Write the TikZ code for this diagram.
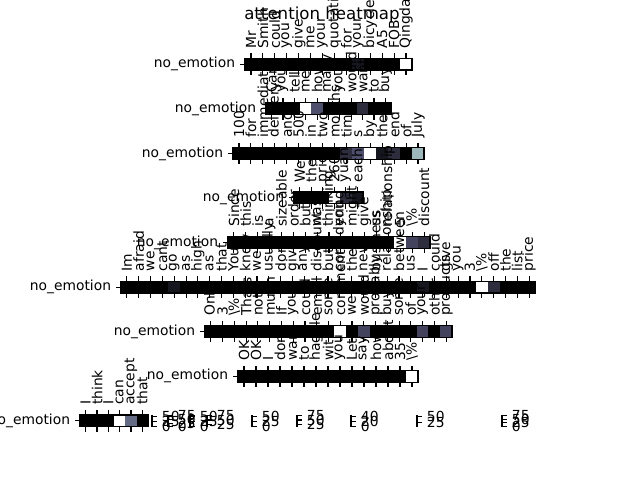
\documentclass[tikz,border=0pt]{standalone}
\usepackage{fontspec}
\setmainfont{DejaVu Sans}
\usepackage{tikz}
\definecolor{bk}{HTML}{000000}
\definecolor{d1}{HTML}{16161F}
\definecolor{d2}{HTML}{2D2D3E}
\definecolor{d3}{HTML}{43435D}
\definecolor{d4}{HTML}{4E4E6D}
\definecolor{s5}{HTML}{646B84}
\definecolor{l7}{HTML}{9CB8BC}
\definecolor{wh}{HTML}{FFFFFF}
\newcommand{\lblfont}{\fontsize{10}{12}\selectfont}
% one heatmap row: name, left, right, centre y, cells, word/colour list
\newcommand{\heatrow}[6]{%
  \pgfmathsetmacro\cw{(#3-#2)/#5}
  \foreach \w/\col [count=\i] in {#6} {
    \fill[\col] ({#2+(\i-1)*\cw}, #4-5.85) rectangle ({#2+\i*\cw}, #4+5.85);
    \draw[tickmark] ({#2+(\i-0.5)*\cw}, #4-5.85) -- ++(0,-4.86);
    \draw[tickmark] ({#2+(\i-0.5)*\cw}, #4+5.85) -- ++(0,4.86);
    \node[word] (#1-\i) at ({#2+(\i-0.5)*\cw}, #4-15.6) {\w};
  }
  \draw[tickmark] (#2,#4) -- ++(-4.86,0);
  \node[rowlab] (#1-lab) at ({#2-9.7}, #4) {no\_emotion};
  \draw[spine] (#2, #4-5.85) rectangle (#3, #4+5.85);
}
% one colour bar: name, x, min, max, ticks
\newcommand{\cbar}[5]{%
  \draw[spine] (#2, 414.95) -- (#2, 426.65);
  \foreach \v in {#5} {
    \pgfmathsetmacro\ty{426.65-(\v-#3)/(#4-#3)*11.7}
    \draw[tickmark] (#2, \ty) -- ++(4.86, 0);
    \node[cblab] (#1-\v) at ({#2+9.7}, \ty) {\v};
  }
}

\begin{document}
\begin{tikzpicture}[x=0.01in, y=-0.01in,
    tickmark/.style={line width=0.8pt},
    spine/.style={line width=0.8pt},
    word/.style={rotate=90, anchor=west, inner sep=0pt, font=\lblfont},
    rowlab/.style={anchor=east, inner sep=0pt, font=\lblfont},
    cblab/.style={anchor=west, inner sep=0pt, font=\lblfont}]
  \useasboundingbox (0,0) rectangle (640,480);

  \node[font=\fontsize{12}{14}\selectfont] (title) at (322, 15) {attention heatmap};

  \heatrow{r1}{245}{412}{64.2}{14}{Mr/bk, Smith/bk, could/bk, you/bk, give/bk, me/bk, your/bk, quotation/bk, for/bk, your/d1, bicycle/bk, A5/bk, FOB/bk, Qingdao/wh}
  \heatrow{r2}{266}{391}{108.8}{11}{Can/bk, you/bk, tell/bk, me/wh, how/d4, many/bk, you/bk, would/bk, want/d2, to/bk, buy/bk}
  \heatrow{r3}{233}{424}{153.4}{16}{100/bk, for/bk, immediate/bk, delivery/bk, and/bk, 500/bk, in/bk, two/bk, months/bk, time/d2, s/d4, by/wh, the/d1, end/d2, of/bk, July/l7}
  \heatrow{r4}{294}{363}{197.9}{6}{Well/bk, the/bk, price/bk, 260/wh, yuan/d2, each/d1}
  \heatrow{r5}{228}{430}{242.5}{17}{Since/bk, this/bk, is/bk, a/bk, sizeable/bk, order/bk, but/bk, was/bk, thinking/bk, you/bk, might/bk, give/bk, us/bk, relationship/bk, 5/wh, \textbackslash\%/d3, discount/d2}
  \heatrow{r6}{121}{535}{287.1}{35}{Im/bk, afraid/bk, we/bk, cant/bk, go/d1, as/bk, high/bk, as/bk, that/bk, You/bk, know/bk, we/bk, usually/bk, dont/bk, give/bk, any/bk, discount/bk, but/bk, considering/bk, the/bk, new/bk, business/bk, relationship/bk, between/bk, us/bk, I/d1, could/bk, give/bk, you/bk, 3/bk, \textbackslash\%/wh, off/d2, the/bk, list/bk, price/bk}
  \heatrow{r7}{205}{452}{331.7}{21}{Only/bk, 3/bk, \textbackslash\%/bk, Thats/bk, not/bk, much/bk, If/bk, you/bk, could/bk, email/bk, some/bk, comments/wh, we/bk, would/d3, probably/bk, buy/bk, some/bk, of/bk, your/d3, other/bk, products/d3}
  \heatrow{r8}{238}{418}{376.3}{15}{OK/bk, OK/bk, I/bk, dont/bk, want/bk, to/bk, haggle/bk, with/bk, you/bk, Lets/bk, say/bk, how/bk, about/bk, 35/bk, \textbackslash\%/wh}
  \heatrow{r9}{80}{148}{420.8}{6}{I/bk, think/bk, I/bk, can/wh, accept/s5, that/bk}

  % colour bars, squeezed along the bottom row
  \cbar{c1}{152}{0}{58}{0,25,50}
  \cbar{c2}{168}{0}{82}{0,25,50,75}
  \cbar{c3}{190}{0}{55}{0,25,50}
  \cbar{c4}{207}{10}{80}{25,50,75}
  \cbar{c5}{252}{0}{58}{0,25,50}
  \cbar{c6}{297}{10}{80}{25,50,75}
  \cbar{c7}{351}{0}{45}{0,20,40}
  \cbar{c8}{417}{10}{55}{25,50}
  \cbar{c9}{502}{0}{78}{0,25,50,75}
\end{tikzpicture}
\end{document}
